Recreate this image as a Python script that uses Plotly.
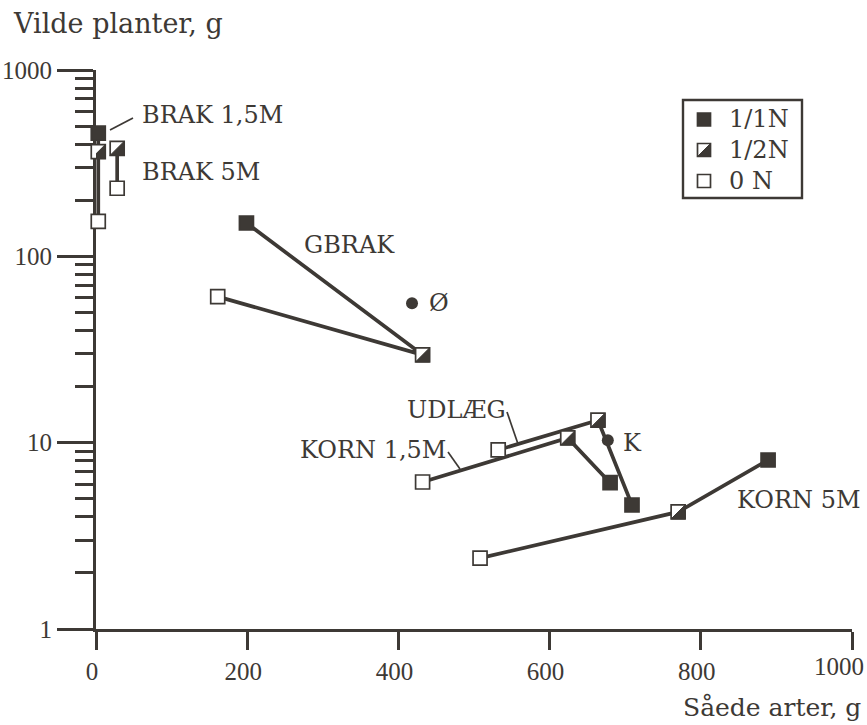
import plotly.graph_objects as go

# Treatment groups; each one is measured at three nitrogen levels
groups = ["BRAK 1,5M", "BRAK 5M", "GBRAK", "KORN 1,5M", "UDLÆG", "KORN 5M"]

# Såede arter (g) at 1/1N, 1/2N and 0 N
sown_full = [3, None, 199, 680, 709, 889]
sown_half = [3, 28, 432, 624, 664, 770]
sown_zero = [3, 28, 161, 432, 532, 508]

# Vilde planter (g) at 1/1N, 1/2N and 0 N
wild_full = [458, None, 151, 6.1, 4.63, 8.07]
wild_half = [365, 380, 29.6, 10.6, 13.2, 4.25]
wild_zero = [154, 232, 60.8, 6.15, 9.14, 2.4]

# Single reference plots
controls = ["Ø", "K"]
control_sown = [418, 677]
control_wild = [56, 10.3]

x_ticks = [0, 200, 400, 600, 800, 1000]
y_ticks = [1, 10, 100, 1000]
y_minor = [m * d for d in (1, 10, 100) for m in range(2, 10)]

legend_labels = ["1/1N", "1/2N", "0 N"]

INK = "#3d3935"
WHITE = "#ffffff"
SERIF = "DejaVu Serif"
NUM_FONT = "Liberation Serif"
NUM_SIZE = 25

FIG_W, FIG_H = 867, 725
L, R, T, B = 96, 852, 70, 629


def px(xp):
    return (xp - L) / (R - L)


def py(yp):
    return (B - yp) / (B - T)


fig = go.Figure()

# connecting lines: 1/1N -> 1/2N -> 0 N within each group
for i, name in enumerate(groups):
    xs = [sown_full[i], sown_half[i], sown_zero[i]]
    ys = [wild_full[i], wild_half[i], wild_zero[i]]
    pts = [(a, b) for a, b in zip(xs, ys) if a is not None]
    fig.add_trace(go.Scatter(
        x=[p[0] for p in pts], y=[p[1] for p in pts], mode="lines",
        line=dict(color=INK, width=3.7), name=name,
        hoverinfo="skip", cliponaxis=False, showlegend=False))

SQ = 14
marker_line = dict(color=INK, width=1.7)

fig.add_trace(go.Scatter(
    x=sown_zero, y=wild_zero, mode="markers", name="0 N",
    marker=dict(symbol="square", size=SQ, color=WHITE, line=marker_line),
    cliponaxis=False, showlegend=False))
fig.add_trace(go.Scatter(
    x=sown_half, y=wild_half, mode="markers", name="1/2N",
    marker=dict(symbol="square", size=SQ, color=WHITE, line=marker_line),
    cliponaxis=False, showlegend=False))
fig.add_trace(go.Scatter(
    x=sown_full, y=wild_full, mode="markers", name="1/1N",
    marker=dict(symbol="square", size=SQ, color=INK, line=marker_line),
    cliponaxis=False, showlegend=False))
fig.add_trace(go.Scatter(
    x=control_sown, y=control_wild, mode="markers", name="kontrol",
    marker=dict(symbol="circle", size=12, color=INK, line=dict(width=0)),
    cliponaxis=False, showlegend=False))

h = SQ / 2
tri_path = f"M {-h} {-h} L {h} {-h} L {h} {h} Z"
shapes = []

# dark lower-right half of the 1/2N squares
for xv, yv in zip(sown_half, wild_half):
    shapes.append(dict(
        type="path", xref="x", yref="y", xsizemode="pixel", ysizemode="pixel",
        xanchor=xv, yanchor=yv, path=tri_path,
        fillcolor=INK, line=dict(color=INK, width=1), layer="above"))

# leader lines for the group labels
for (x0, y0, x1, y1) in [(110, 130, 133, 118), (507, 412, 518, 444), (448, 452, 460, 469)]:
    shapes.append(dict(type="line", xref="paper", yref="paper",
                       x0=px(x0), y0=py(y0), x1=px(x1), y1=py(y1),
                       line=dict(color=INK, width=1.7)))

# legend box with its three symbols
shapes.append(dict(type="rect", xref="paper", yref="paper",
                   x0=px(683), y0=py(100), x1=px(802), y1=py(198),
                   line=dict(color=INK, width=2.4), fillcolor=WHITE, layer="above"))
lh = 6.5
sq_path = f"M {-lh} {-lh} L {lh} {-lh} L {lh} {lh} L {-lh} {lh} Z"
ltri_path = f"M {-lh} {-lh} L {lh} {-lh} L {lh} {lh} Z"
legend_rows = [119.5, 150, 181]
for k, yrow in enumerate(legend_rows):
    fill = INK if k == 0 else WHITE
    shapes.append(dict(type="path", xref="paper", yref="paper",
                       xsizemode="pixel", ysizemode="pixel",
                       xanchor=px(704), yanchor=py(yrow), path=sq_path,
                       fillcolor=fill, line=dict(color=INK, width=1.7), layer="above"))
    if k == 1:
        shapes.append(dict(type="path", xref="paper", yref="paper",
                           xsizemode="pixel", ysizemode="pixel",
                           xanchor=px(704), yanchor=py(yrow), path=ltri_path,
                           fillcolor=INK, line=dict(color=INK, width=1), layer="above"))

annotations = []


def label(text, xp, yp, anchor="left", size=24, family=SERIF):
    annotations.append(dict(
        text=text, xref="paper", yref="paper", x=px(xp), y=py(yp),
        xanchor=anchor, yanchor="middle", showarrow=False,
        font=dict(family=family, size=size, color=INK)))


group_label_pos = [(140, 115, "left"), (140, 172, "left"), (302, 245, "left"),
                   (448, 450, "right"), (405, 410, "left"), (735, 500, "left")]
for name, (xp, yp, anc) in zip(groups, group_label_pos):
    label(name, xp, yp, anc)

control_label_pos = [(427, 303), (621, 443)]
for name, (xp, yp) in zip(controls, control_label_pos):
    label(name, xp, yp)

for name, yrow in zip(legend_labels, legend_rows):
    label(name, 727, yrow, size=24)

label("Vilde planter, g", 11, 24, size=27)
label("Såede arter, g", 863, 707, anchor="right", size=25)

# the last x tick label sits flush with the right edge of the figure
x_ticktext = [str(v) for v in x_ticks[:-1]] + [""]
label(str(x_ticks[-1]), 866, 666, anchor="right", size=NUM_SIZE, family=NUM_FONT)

axis_common = dict(
    showline=True, linecolor=INK, linewidth=3, showgrid=False, zeroline=False,
    ticks="outside", tickcolor=INK, layer="below traces",
    ticklabeloverflow="allow", automargin=False,
    tickfont=dict(family=NUM_FONT, size=NUM_SIZE, color=INK))

fig.update_xaxes(range=[0, 1000], tickmode="array", tickvals=x_ticks,
                 ticktext=x_ticktext, ticklen=18, tickwidth=2.6,
                 ticklabelshift=-4, **axis_common)
fig.update_yaxes(type="log", range=[0, 3], tickmode="array", tickvals=y_ticks,
                 ticktext=[str(v) for v in y_ticks], ticklen=36, tickwidth=2.6,
                 minor=dict(tickmode="array", tickvals=y_minor, ticks="outside",
                            ticklen=18, tickwidth=3, tickcolor=INK, showgrid=False),
                 **axis_common)

fig.update_layout(
    width=FIG_W, height=FIG_H,
    margin=dict(l=L, r=FIG_W - R, t=T, b=FIG_H - B, pad=0, autoexpand=False),
    paper_bgcolor=WHITE, plot_bgcolor=WHITE,
    showlegend=False, shapes=shapes, annotations=annotations)

fig.write_html("out.html")
